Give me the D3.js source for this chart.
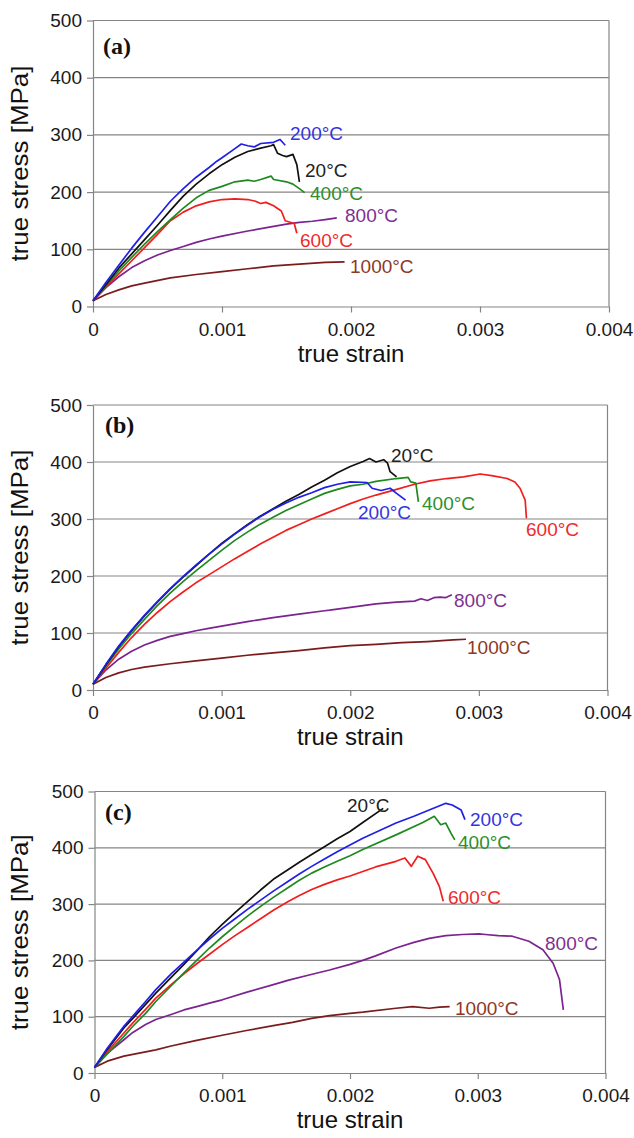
<!DOCTYPE html>
<html>
<head>
<meta charset="utf-8">
<script src="https://cdn.jsdelivr.net/npm/d3@7"></script>
<style>
body { margin: 0; background: #fff; }
svg { display: block; }
</style>
</head>
<body>
<script>
// tick values shared by all three panels
var yTicks = [0, 100, 200, 300, 400, 500];
var xTicks = [0, 0.001, 0.002, 0.003, 0.004];
var xTickLabels = ["0", "0.001", "0.002", "0.003", "0.004"];
var tempLabels = ["20°C", "200°C", "400°C", "600°C", "800°C", "1000°C"];

// panel (a)  [true strain, true stress MPa]
var a20 = [[0,10],[0.0001,38],[0.0002,67],[0.0003,92],[0.0004,117],[0.0005,142],[0.0006,168],[0.0007,193],[0.0008,214],[0.0009,232],[0.001,248],[0.0011,261],[0.0012,271],[0.0013,277],[0.00138,281],[0.0014,283],[0.00143,268],[0.00147,264],[0.0015,262],[0.00155,266],[0.00158,248],[0.0016,218]];
var a200 = [[0,10],[0.0001,42],[0.0002,72],[0.0003,102],[0.0004,130],[0.0005,157],[0.0006,184],[0.0007,206],[0.0008,226],[0.0009,243],[0.00096,254],[0.001,260],[0.0011,276],[0.00115,284],[0.0012,281],[0.00125,279],[0.0013,285],[0.0014,287],[0.00145,292],[0.00149,282]];
var a400 = [[0,10],[0.0001,36],[0.0002,62],[0.0003,86],[0.0004,109],[0.0005,131],[0.0006,152],[0.0007,172],[0.0008,190],[0.0009,203],[0.001,210],[0.0011,218],[0.0012,221],[0.00125,219],[0.0013,222],[0.00138,228],[0.0014,222],[0.0015,218],[0.00155,214],[0.0016,206],[0.00164,199]];
var a600 = [[0,10],[0.0001,34],[0.0002,57],[0.0003,80],[0.0004,103],[0.0005,126],[0.0006,150],[0.0007,165],[0.0008,176],[0.0009,183],[0.001,187],[0.0011,188],[0.0012,187],[0.00126,184],[0.0013,180],[0.00134,182],[0.0014,176],[0.00146,167],[0.00149,150],[0.00156,145],[0.00158,128]];
var a800 = [[0,10],[0.0001,33],[0.0002,52],[0.0003,68],[0.0004,80],[0.0005,90],[0.0006,98],[0.0007,105],[0.0008,112],[0.0009,118],[0.001,123],[0.0012,132],[0.0014,140],[0.0015,144],[0.0016,147],[0.0017,149],[0.0018,152],[0.00189,155]];
var a1000 = [[0,10],[0.0001,21],[0.0002,29],[0.0003,36],[0.0004,41],[0.0006,50],[0.0008,56],[0.001,61],[0.0012,66],[0.0014,71],[0.0016,74],[0.0018,77],[0.00195,78]];

// panel (b)
var b20 = [[0,10],[0.0001,44],[0.0002,76],[0.0003,104],[0.0004,130],[0.0005,154],[0.0006,177],[0.0007,198],[0.0008,218],[0.0009,238],[0.001,257],[0.0011,274],[0.0012,290],[0.0013,305],[0.0014,318],[0.0015,331],[0.0016,343],[0.0017,356],[0.0018,368],[0.0019,381],[0.002,392],[0.0021,401],[0.00215,406],[0.0022,400],[0.00226,404],[0.00229,398],[0.00231,383],[0.00236,374]];
var b200 = [[0,10],[0.0001,45],[0.0002,77],[0.0003,105],[0.0004,131],[0.0005,155],[0.0006,178],[0.0007,199],[0.0008,219],[0.0009,238],[0.001,256],[0.0011,273],[0.0012,289],[0.0013,304],[0.0014,317],[0.0015,328],[0.0016,338],[0.0017,346],[0.0018,355],[0.0019,361],[0.002,365],[0.00213,364],[0.00217,354],[0.00224,350],[0.00231,354],[0.00236,345],[0.00243,333]];
var b400 = [[0,10],[0.0001,42],[0.0002,72],[0.0003,99],[0.0004,124],[0.0005,148],[0.0006,170],[0.0007,190],[0.0008,209],[0.0009,227],[0.001,245],[0.0011,262],[0.0012,277],[0.0013,291],[0.0014,303],[0.0015,315],[0.0016,325],[0.0017,335],[0.0018,345],[0.0019,352],[0.002,358],[0.0021,361],[0.0022,366],[0.00236,371],[0.00245,373],[0.00247,365],[0.00251,363],[0.00253,330]];
var b600 = [[0,10],[0.0001,38],[0.0002,66],[0.0003,92],[0.0004,115],[0.0005,136],[0.0006,155],[0.0007,172],[0.0008,188],[0.0009,202],[0.001,216],[0.0011,230],[0.0012,243],[0.0013,256],[0.0014,268],[0.0015,280],[0.0016,290],[0.0017,300],[0.0018,309],[0.0019,318],[0.002,327],[0.0021,335],[0.0022,342],[0.00236,352],[0.0025,361],[0.00262,367],[0.00275,371],[0.00288,374],[0.00301,379],[0.0031,376],[0.00322,371],[0.00328,365],[0.00332,354],[0.00336,333],[0.00337,301]];
var b800 = [[0,10],[0.0001,35],[0.0002,54],[0.0003,68],[0.0004,79],[0.0005,87],[0.0006,94],[0.0007,99],[0.0008,104],[0.0009,108],[0.001,112],[0.0012,120],[0.0014,127],[0.0016,133],[0.0018,139],[0.00184,140],[0.002,145],[0.0021,148],[0.0022,151],[0.00236,154],[0.0025,156],[0.00255,160],[0.0026,157],[0.00265,162],[0.0027,163],[0.00274,162],[0.00279,167]];
var b1000 = [[0,10],[0.0001,22],[0.0002,30],[0.0003,36],[0.0004,40],[0.0006,46],[0.0008,51],[0.001,56],[0.0012,61],[0.0014,65],[0.0016,69],[0.0018,74],[0.002,78],[0.0022,80],[0.0024,83],[0.0026,85],[0.0028,88],[0.0029,89]];

// panel (c)
var c20 = [[0,10],[0.0001,42],[0.00023,80],[0.0003,97],[0.0004,122],[0.00048,142],[0.0006,170],[0.0007,193],[0.0008,217],[0.0009,242],[0.001,264],[0.0011,285],[0.0012,305],[0.0013,325],[0.0014,344],[0.00152,362],[0.0016,374],[0.0017,388],[0.0018,402],[0.0019,416],[0.002,429],[0.0021,445],[0.00226,470]];
var c200 = [[0,10],[0.0001,44],[0.00023,83],[0.0003,101],[0.0004,127],[0.00048,148],[0.0006,176],[0.0007,197],[0.0008,218],[0.0009,238],[0.001,257],[0.0011,274],[0.0012,291],[0.0013,307],[0.0014,323],[0.00152,341],[0.0016,353],[0.0017,367],[0.0018,380],[0.0019,393],[0.002,405],[0.0021,417],[0.00236,444],[0.0025,456],[0.00262,467],[0.00275,479],[0.0028,476],[0.00287,467],[0.0029,450]];
var c400 = [[0,10],[0.0001,34],[0.00023,65],[0.0003,83],[0.0004,106],[0.00048,127],[0.0006,155],[0.0007,178],[0.0008,200],[0.0009,222],[0.001,242],[0.0011,261],[0.0012,279],[0.0013,296],[0.0014,312],[0.00152,330],[0.0016,342],[0.0017,355],[0.0018,366],[0.0019,376],[0.002,386],[0.0021,397],[0.00236,423],[0.00257,445],[0.00266,456],[0.00271,441],[0.00275,444],[0.00279,426],[0.00282,414]];
var c600 = [[0,10],[0.0001,38],[0.00023,71],[0.0003,89],[0.0004,113],[0.00048,133],[0.0006,157],[0.0007,176],[0.0008,194],[0.0009,211],[0.001,228],[0.0011,244],[0.0012,259],[0.0013,274],[0.0014,289],[0.00152,305],[0.0016,315],[0.0017,326],[0.0018,335],[0.0019,343],[0.002,350],[0.0021,358],[0.0022,366],[0.00236,376],[0.00243,382],[0.00248,367],[0.00253,385],[0.00259,379],[0.00265,355],[0.0027,331],[0.00273,305]];
var c800 = [[0,10],[0.0001,35],[0.00023,59],[0.0003,72],[0.0004,86],[0.00048,95],[0.0006,104],[0.0007,112],[0.0008,118],[0.0009,124],[0.001,130],[0.0012,144],[0.0014,157],[0.00152,165],[0.00168,174],[0.00184,183],[0.002,193],[0.0021,200],[0.0022,208],[0.00236,222],[0.0025,232],[0.00262,239],[0.00275,244],[0.00288,246],[0.00301,247],[0.00306,246],[0.00316,244],[0.00327,243],[0.0034,234],[0.00351,219],[0.00359,195],[0.00364,166],[0.00367,112]];
var c1000 = [[0,10],[0.0001,21],[0.00023,30],[0.00048,41],[0.0006,48],[0.0008,58],[0.001,67],[0.0012,76],[0.0014,84],[0.00155,90],[0.0017,97],[0.00184,102],[0.002,106],[0.0021,108],[0.00236,115],[0.00249,118],[0.00262,115],[0.0027,117],[0.00278,118]];

var colors = ["#111111", "#1f1fe8", "#1e8a1e", "#f21d1d", "#7b238f", "#7a1c1c"];
var labelColors = ["#222222", "#3434e0", "#2d8f2d", "#ee2b2b", "#7e2f92", "#8e3826"];

var panels = [
  {tag: "(a)", left: 93, right: 609, top: 20.5, bottom: 306.5, tagX: 103, tagY: 54,
   series: [a20, a200, a400, a600, a800, a1000],
   labelPos: [[305,170],[290,133],[310,193],[300,240],[345,215],[350,266]]},
  {tag: "(b)", left: 93, right: 607.5, top: 405, bottom: 690, tagX: 105, tagY: 433,
   series: [b20, b200, b400, b600, b800, b1000],
   labelPos: [[391,455],[358,512],[422,503],[526,529],[454,600],[467,647]]},
  {tag: "(c)", left: 94.5, right: 605.5, top: 791.5, bottom: 1073, tagX: 105, tagY: 820,
   series: [c20, c200, c400, c600, c800, c1000],
   labelPos: [[347,805],[470,819],[458,842],[448,897],[545,943],[455,1008]]}
];

var svg = d3.select("body").append("svg")
    .attr("width", 634)
    .attr("height", 1138)
    .style("font-family", "'Liberation Sans', Arial, sans-serif");

var drawOrder = [5, 4, 3, 2, 0, 1];

panels.forEach(function(p) {
    var x = d3.scaleLinear().domain([0, 0.004]).range([p.left, p.right]);
    var y = d3.scaleLinear().domain([0, 500]).range([p.bottom, p.top]);

    var g = svg.append("g");

    // horizontal grid lines
    g.selectAll(".grid")
        .data(yTicks.slice(1))
        .enter().append("line")
        .attr("x1", p.left).attr("x2", p.right)
        .attr("y1", function(d) { return y(d); })
        .attr("y2", function(d) { return y(d); })
        .attr("stroke", "#858585")
        .attr("stroke-width", 1.2);

    // right border
    g.append("line")
        .attr("x1", p.right).attr("x2", p.right)
        .attr("y1", p.top).attr("y2", p.bottom)
        .attr("stroke", "#858585").attr("stroke-width", 1.2);

    var yAxis = g.append("g")
        .attr("transform", "translate(" + p.left + ",0)")
        .call(d3.axisLeft(y).tickValues(yTicks).tickSize(6).tickSizeOuter(0).tickPadding(5));

    var xAxis = g.append("g")
        .attr("transform", "translate(0," + p.bottom + ")")
        .call(d3.axisBottom(x).tickValues(xTicks).tickSize(6).tickSizeOuter(0).tickPadding(10)
              .tickFormat(function(d, i) { return xTickLabels[i]; }));

    [yAxis, xAxis].forEach(function(ax) {
        ax.select(".domain").attr("stroke", "#858585").attr("stroke-width", 1.2);
        ax.selectAll(".tick line").attr("stroke", "#858585").attr("stroke-width", 1.2);
        ax.selectAll(".tick text")
            .attr("fill", "#1a1a1a")
            .style("font-size", "19px")
            .style("font-family", "'Liberation Sans', Arial, sans-serif");
    });

    var line = d3.line()
        .x(function(d) { return x(d[0]); })
        .y(function(d) { return y(d[1]); });

    drawOrder.forEach(function(i) {
        g.append("path")
            .datum(p.series[i])
            .attr("d", line)
            .attr("fill", "none")
            .attr("stroke", colors[i])
            .attr("stroke-width", 1.7)
            .attr("stroke-linejoin", "round");
    });

    // curve labels
    tempLabels.forEach(function(t, i) {
        g.append("text")
            .attr("x", p.labelPos[i][0])
            .attr("y", p.labelPos[i][1] + 7)
            .attr("fill", labelColors[i])
            .style("font-size", "19px")
            .text(t);
    });

    g.append("text")
        .attr("x", p.tagX)
        .attr("y", p.tagY)
        .style("font-family", "'Liberation Serif', 'Times New Roman', serif")
        .style("font-weight", "bold")
        .style("font-size", "24px")
        .attr("fill", "#111")
        .text(p.tag);

    // axis titles
    g.append("text")
        .attr("x", (p.left + p.right) / 2)
        .attr("y", p.bottom + 55)
        .attr("text-anchor", "middle")
        .attr("fill", "#111")
        .style("font-size", "24px")
        .text("true strain");

    g.append("text")
        .attr("transform", "translate(28," + ((p.top + p.bottom) / 2) + ") rotate(-90)")
        .attr("text-anchor", "middle")
        .attr("fill", "#111")
        .attr("textLength", 196)
        .attr("lengthAdjust", "spacingAndGlyphs")
        .style("font-size", "24px")
        .text("true stress [MPa]");
});
</script>
</body>
</html>
